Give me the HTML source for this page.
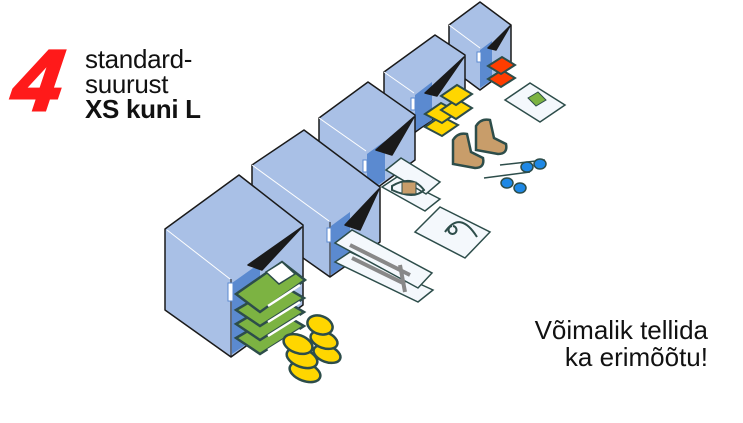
<!DOCTYPE html>
<html><head><meta charset="utf-8"><style>
html,body{margin:0;padding:0;background:#fff;}
body{width:743px;height:423px;position:relative;overflow:hidden;font-family:"Liberation Sans",sans-serif;}
.t{position:absolute;color:#111;}
</style></head><body>
<svg width="743" height="423" style="position:absolute;left:0;top:0">
<g stroke="#1a1a1a" stroke-width="1.5" stroke-linejoin="round">
<!-- Box5 -->
<polygon points="449,25 480,2 511,25 511,67 480,90 449,67" fill="#a9c0e6"/>
<line x1="449" y1="25" x2="480" y2="48" stroke="#fff" stroke-width="1"/>
<polygon points="480,50 492,41 492,80 480,88" fill="#5b8ad0" stroke="none"/>
<polygon points="510,26 488,48 496,50" fill="#1a1a1a"/>
<!-- Box4 -->
<polygon points="384,72 435,35 465,55 465,96 414,133 384,113" fill="#a9c0e6"/>
<line x1="384" y1="72" x2="414" y2="93" stroke="#fff" stroke-width="1"/>
<polygon points="415,95 432,82 432,120 415,131" fill="#5b8ad0" stroke="none"/>
<polygon points="464,57 425,93 437,96" fill="#1a1a1a"/>
<!-- Box3 -->
<polygon points="319,118 368,82 415,115 415,160 366,196 319,163" fill="#a9c0e6"/>
<line x1="319" y1="118" x2="366" y2="151" stroke="#fff" stroke-width="1"/>
<polygon points="367,154 385,141 385,180 367,193" fill="#5b8ad0" stroke="none"/>
<polygon points="414,117 376,150 392,155" fill="#1a1a1a"/>
<!-- Box2 -->
<polygon points="252,165 304,130 380,187 380,242 330,277 252,222" fill="#a9c0e6"/>
<line x1="252" y1="165" x2="329" y2="221" stroke="#fff" stroke-width="1"/>
<line x1="330" y1="222" x2="330" y2="277" stroke="#1a1a1a" stroke-width="1"/>
<polygon points="331,226 350,212 350,262 331,275" fill="#5b8ad0" stroke="none"/>
<polygon points="379,189 345,225 360,230" fill="#1a1a1a"/>
<!-- Box1 -->
<polygon points="165,229 239,175 303,225 303,305 231,357 165,310" fill="#a9c0e6"/>
<line x1="167" y1="230" x2="230" y2="279" stroke="#fff" stroke-width="1"/>
<line x1="231" y1="279" x2="231" y2="357" stroke="#1a1a1a" stroke-width="1"/>
<polygon points="232,283 260,263 260,335 232,354" fill="#5b8ad0" stroke="none"/>
<polygon points="302,227 248,265 262,270" fill="#1a1a1a"/>
</g>
<g fill="#fff" stroke="#5b8ad0" stroke-width="1">
<rect x="228" y="283" width="5" height="18"/><rect x="327" y="228" width="4" height="14"/>
<rect x="363" y="160" width="4" height="12"/><rect x="411" y="98" width="4" height="12"/><rect x="477" y="52" width="4" height="10"/>
</g>
<!-- green shirts -->
<g stroke="#2d4d4a" stroke-width="2.5" fill="#7cb342">
<path d="M236,338 L280,312 L304,326 L260,354 Z"/>
<path d="M236,324 L280,298 L304,312 L260,340 Z"/>
<path d="M236,310 L280,284 L304,298 L260,326 Z"/>
<path d="M236,294 L282,262 L305,280 L260,312 Z"/>
</g>
<g stroke="#fff" stroke-width="2.5"><line x1="268" y1="350" x2="300" y2="330"/><line x1="268" y1="336" x2="300" y2="316"/><line x1="268" y1="322" x2="300" y2="302"/><line x1="268" y1="306" x2="300" y2="285"/></g>
<polygon points="266,272 282,262 295,274 279,284" fill="#fff" stroke="#2d4d4a" stroke-width="1.5"/>
<!-- yellow socks -->
<g stroke="#2d4d4a" stroke-width="2.5" fill="#ffd600">
<ellipse cx="305" cy="372" rx="16" ry="9" transform="rotate(20 305 372)"/><ellipse cx="302" cy="358" rx="16" ry="9" transform="rotate(20 302 358)"/><ellipse cx="298" cy="344" rx="15" ry="9" transform="rotate(20 298 344)"/>
<ellipse cx="327" cy="354" rx="14" ry="8" transform="rotate(20 327 354)"/><ellipse cx="324" cy="340" rx="14" ry="8" transform="rotate(20 324 340)"/><ellipse cx="320" cy="325" rx="13" ry="9" transform="rotate(20 320 325)"/>
</g>
<!-- bags -->
<g stroke="#2d4d4a" stroke-width="1.5" fill="#f4f8fc">
<polygon points="335,262 350,252 433,290 418,302"/>
<polygon points="335,243 352,230 432,273 418,288"/>
<polygon points="382,187 397,177 440,199 425,211"/>
<polygon points="386,170 401,158 440,182 426,194"/>
<polygon points="415,232 440,207 490,232 465,258"/>
<polygon points="505,100 530,83 565,105 540,122"/>
</g>
<g stroke="#888" stroke-width="4" fill="none"><path d="M350,245 L410,275 M352,258 L405,284 M400,265 L405,292"/></g>
<g stroke="#2d4d4a" stroke-width="2" fill="none"><path d="M392,186 q20,-12 32,4 q-10,10 -32,0z"/><path d="M445,232 q15,-22 32,5 M452,226 a4,4 0 1,0 1,0"/></g>
<rect x="402" y="182" width="14" height="12" fill="#c89d6a" stroke="#2d4d4a"/>
<polygon points="528,98 538,92 546,100 536,106" fill="#7cb342" stroke="#2d4d4a"/>
<!-- yellow books -->
<g stroke="#2d4d4a" stroke-width="2" fill="#ffd600">
<polygon points="425,127 441,116 458,125 442,136"/><polygon points="425,114 441,103 458,112 442,123"/>
<polygon points="441,110 457,99 472,108 456,119"/><polygon points="441,96 457,85 472,94 456,105"/>
</g>
<!-- red books -->
<g stroke="#2d4d4a" stroke-width="2" fill="#ff3d00">
<polygon points="488,79 502,70 515,78 501,87"/><polygon points="488,66 502,57 515,65 501,74"/>
</g>
<!-- boots -->
<g stroke="#2d4d4a" stroke-width="2.5" fill="#c89d6a">
<path d="M453,140 q5,-8 14,-6 l4,18 l12,6 q2,10 -8,10 l-22,-4z"/>
<path d="M476,126 q5,-8 14,-6 l4,18 l12,6 q2,10 -8,10 l-22,-4z"/>
</g>
<!-- glasses -->
<g stroke="#2d4d4a" stroke-width="1.5" fill="#1e88e5">
<path d="M484,178 L530,172 M500,165 L545,160"/>
<ellipse cx="507" cy="183" rx="6" ry="5"/><ellipse cx="520" cy="188" rx="6" ry="5"/>
<ellipse cx="527" cy="167" rx="6" ry="5"/><ellipse cx="540" cy="164" rx="6" ry="5"/>
</g>
<text x="12" y="110" font-family="Liberation Sans,sans-serif" font-weight="bold" font-style="italic" font-size="86" fill="#ff1a1a" stroke="#ff1a1a" stroke-width="3" transform="skewX(-8) translate(14,0)">4</text>
</svg>
<div class="t" style="left:85px;top:47px;font-size:26px;line-height:25px;letter-spacing:-0.3px;">standard-<br>suurust<br><b>XS kuni L</b></div>
<div class="t" style="right:35px;top:317px;font-size:26px;line-height:27px;text-align:right;">Võimalik tellida<br>ka erimõõtu!</div>
</body></html>
